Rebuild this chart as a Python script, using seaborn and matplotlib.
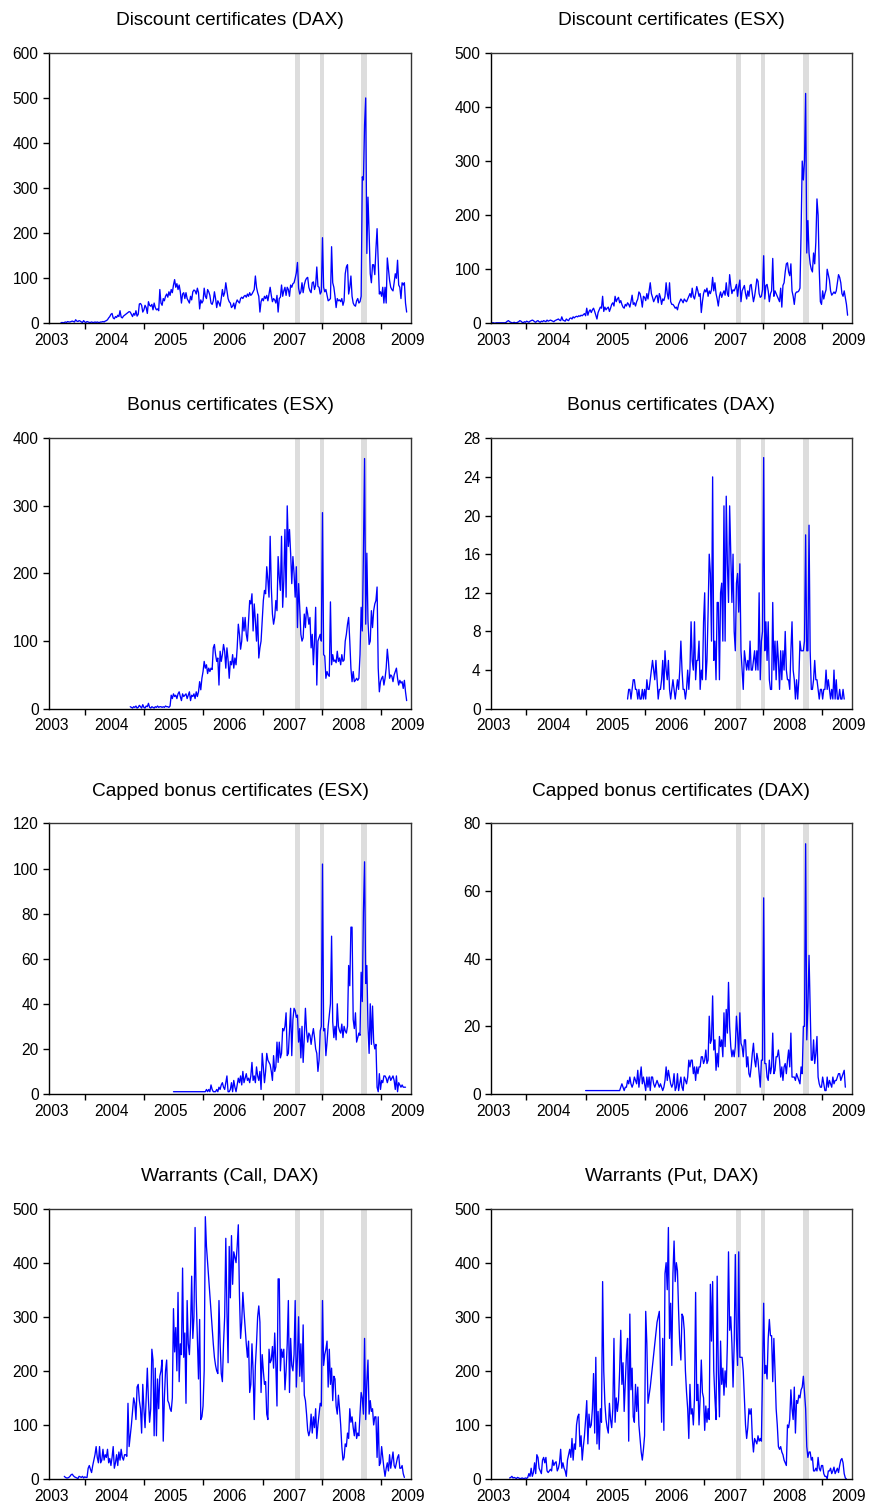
import pandas as pd
import numpy as np
import seaborn as sns
import matplotlib.pyplot as plt
import matplotlib.dates as mdates

sns.set_style("ticks")
plt.rcParams['font.family'] = ['Liberation Sans', 'DejaVu Sans']
plt.rcParams['text.color'] = 'black'
plt.rcParams['xtick.color'] = 'black'
plt.rcParams['ytick.color'] = 'black'

### weekly sample, 2003-05-30 .. 2009-06-05 ###
weeks = pd.date_range('2003-05-30', periods=315, freq='7D')
year_labels = ['2003', '2004', '2005', '2006', '2007', '2008', '2009']
year_starts = ['2004-01-01', '2005-01-01', '2006-01-01', '2007-01-01', '2008-01-01', '2009-01-01']
bands = [('2007-07-20', '2007-08-18'), ('2007-12-20', '2008-01-15'), ('2008-08-31', '2008-10-07')]

# Discount certificates (DAX), from week 10
discount_dax = [
    1, 2, 1, 2, 3, 2, 4, 3, 3, 4,
    5, 4, 3, 8, 5, 4, 6, 5, 3, 2,
    6, 3, 2, 4, 3, 2, 2, 3, 2, 2,
    3, 2, 3, 2, 2, 3, 3, 4, 3, 5,
    6, 8, 12, 15, 20, 22, 12, 10, 15, 13,
    18, 15, 28, 14, 12, 16, 18, 20, 22, 24,
    26, 25, 20, 15, 22, 18, 28, 16, 20, 43,
    44, 40, 25, 30, 40, 35, 22, 48, 40, 38,
    42, 30, 45, 35, 30, 32, 28, 75, 45, 40,
    55, 50, 60, 65, 58, 70, 62, 75, 68, 85,
    97, 80, 88, 75, 85, 70, 45, 65, 68, 55,
    68, 55, 50, 45, 60, 52, 70, 74, 72, 65,
    78, 68, 32, 52, 45, 50, 78, 60, 55, 75,
    70, 62, 45, 42, 50, 70, 55, 35, 50, 45,
    38, 55, 75, 60, 68, 90, 72, 55, 48, 45,
    35, 38, 45, 32, 45, 52, 48, 45, 55, 58,
    55, 60, 62, 58, 65, 60, 68, 62, 65, 70,
    75, 105, 80, 68, 60, 25, 48, 55, 50, 60,
    55, 62, 50, 65, 80, 62, 48, 55, 52, 45,
    62, 25, 55, 58, 85, 60, 72, 80, 62, 80,
    75, 60, 85, 80, 88, 90, 100, 112, 135, 78,
    65, 70, 90, 68, 85, 95, 100, 102, 80, 72,
    68, 90, 92, 75, 85, 125, 82, 80, 65, 70,
    190, 80, 70, 75, 62, 50, 52, 55, 170, 90,
    80, 60, 35, 55, 50, 52, 48, 55, 40, 50,
    110, 125, 130, 65, 80, 105, 60, 45, 40, 38,
    50, 55, 45, 48, 60, 325, 318, 440, 500, 155,
    280, 200, 110, 90, 130, 130, 108, 165, 210, 140,
    65, 70, 60, 80, 45, 80, 45, 145, 120, 95,
    80, 75, 72, 90, 110, 100, 140, 85, 80, 55,
    90, 85, 90, 45, 25]

# Discount certificates (ESX), from week 0
discount_esx = [
    1, 1, 1, 0, 1, 1, 1, 1, 1, 1,
    1, 1, 1, 2, 4, 5, 3, 2, 1, 1,
    2, 1, 1, 2, 3, 5, 4, 2, 1, 3,
    2, 4, 3, 2, 4, 5, 6, 5, 3, 2,
    4, 5, 3, 2, 4, 3, 5, 4, 3, 6,
    4, 5, 6, 5, 4, 3, 5, 6, 7, 8,
    6, 5, 12, 6, 5, 4, 8, 6, 5, 9,
    10, 8, 12, 10, 12, 13, 12, 14, 13, 15,
    14, 16, 18, 14, 28, 15, 22, 25, 20, 25,
    28, 22, 15, 8, 20, 25, 30, 28, 50, 22,
    30, 25, 28, 30, 22, 28, 35, 38, 32, 50,
    40, 45, 48, 38, 42, 35, 30, 28, 35, 32,
    38, 35, 30, 40, 52, 35, 38, 32, 40, 45,
    58, 55, 45, 30, 50, 48, 42, 55, 45, 60,
    75, 55, 48, 40, 45, 50, 52, 38, 55, 48,
    35, 45, 42, 50, 75, 55, 45, 75, 40, 35,
    35, 32, 28, 30, 25, 35, 40, 45, 42, 38,
    45, 42, 40, 45, 50, 55, 48, 65, 50, 45,
    55, 68, 60, 50, 55, 20, 40, 55, 62, 58,
    65, 50, 60, 55, 62, 85, 60, 75, 55, 45,
    32, 50, 58, 48, 55, 60, 52, 75, 55, 50,
    90, 70, 55, 62, 60, 65, 72, 50, 68, 80,
    40, 60, 65, 70, 55, 45, 60, 50, 70, 72,
    55, 40, 50, 65, 82, 78, 55, 48, 50, 62,
    125, 45, 70, 72, 60, 40, 55, 60, 120, 50,
    60, 55, 50, 45, 40, 65, 30, 70, 75, 95,
    110, 112, 95, 88, 110, 60, 50, 35, 55, 58,
    58, 60, 65, 170, 300, 265, 300, 425, 130, 190,
    130, 110, 100, 95, 130, 110, 150, 230, 200, 100,
    40, 35, 60, 45, 55, 62, 100, 90, 80, 60,
    52, 55, 58, 55, 60, 75, 90, 85, 75, 55,
    50, 60, 48, 35, 15]

# Bonus certificates (ESX), from week 71
bonus_esx = [
    3, 2, 1, 3, 2, 4, 1, 2, 5,
    3, 1, 6, 2, 1, 4, 3, 8, 2, 1,
    3, 2, 1, 3, 2, 4, 2, 3, 3, 2,
    3, 2, 4, 3, 3, 2, 4, 20, 15, 22,
    18, 20, 15, 22, 25, 18, 12, 22, 18, 20,
    22, 15, 20, 25, 12, 20, 18, 22, 15, 25,
    18, 25, 40, 28, 45, 55, 70, 60, 65, 52,
    60, 55, 60, 58, 90, 95, 80, 70, 75, 35,
    85, 70, 80, 95, 85, 60, 90, 72, 45, 70,
    65, 80, 60, 75, 65, 90, 125, 110, 88, 100,
    135, 115, 135, 110, 100, 130, 160, 155, 170, 115,
    155, 130, 100, 140, 75, 90, 100, 130, 160, 175,
    170, 210, 190, 165, 255, 180, 140, 125, 135, 160,
    145, 225, 195, 175, 255, 150, 190, 265, 165, 300,
    240, 265, 230, 185, 225, 200, 165, 210, 120, 185,
    150, 110, 100, 105, 140, 120, 150, 140, 125, 135,
    90, 110, 65, 100, 150, 35, 100, 105, 110, 100,
    290, 80, 78, 45, 55, 50, 48, 158, 65, 80,
    70, 72, 68, 85, 70, 75, 65, 80, 70, 72,
    100, 110, 125, 135, 100, 60, 40, 55, 40, 42,
    45, 42, 45, 80, 150, 115, 230, 370, 125, 230,
    130, 95, 100, 145, 120, 145, 155, 160, 180, 60,
    25, 40, 45, 48, 35, 45, 60, 88, 70, 45,
    50, 48, 40, 50, 55, 60, 45, 35, 42, 38,
    40, 30, 42, 25, 12]

# Bonus certificates (DAX), from week 120
bonus_dax = [
    1, 2, 2, 1, 2, 3, 3, 2, 2, 1,
    2, 1, 1, 2, 1, 2, 1, 3, 2, 2,
    3, 4, 5, 4, 3, 5, 3, 1, 2, 2,
    3, 5, 2, 6, 4, 3, 5, 2, 1, 2,
    3, 2, 1, 2, 3, 2, 4, 7, 4, 2,
    2, 1, 2, 4, 2, 4, 9, 5, 4, 9,
    3, 5, 5, 7, 2, 4, 3, 9, 12, 3,
    5, 10, 16, 14, 7, 24, 5, 7, 3, 11,
    11, 3, 12, 13, 7, 21, 7, 22, 15, 11,
    21, 16, 11, 16, 8, 6, 13, 14, 10, 15,
    6, 4, 2, 6, 5, 4, 5, 4, 7, 4,
    4, 5, 6, 4, 6, 4, 12, 3, 7, 8,
    26, 6, 9, 5, 9, 3, 2, 2, 11, 4,
    7, 3, 7, 5, 2, 6, 3, 6, 4, 8,
    4, 3, 3, 2, 6, 9, 4, 3, 1, 3,
    1, 3, 7, 6, 6, 6, 7, 18, 6, 6,
    19, 6, 2, 2, 3, 5, 3, 3, 2, 1,
    2, 2, 1, 2, 2, 4, 2, 3, 2, 1,
    2, 1, 4, 1, 3, 1, 1, 2, 1, 1,
    2, 1]

# Capped bonus certificates (ESX), from week 109
capped_esx = [
    1,
    1, 1, 1, 1, 1, 1, 1, 1, 1, 1,
    1, 1, 1, 1, 1, 1, 1, 1, 1, 1,
    1, 1, 1, 1, 1, 1, 1, 1, 2, 1,
    2, 1, 4, 2, 1, 1, 1, 2, 1, 3,
    2, 4, 5, 3, 2, 5, 8, 1, 1, 2,
    5, 1, 6, 3, 1, 4, 7, 5, 8, 4,
    10, 5, 7, 9, 6, 7, 5, 8, 14, 6,
    8, 5, 12, 8, 6, 10, 2, 18, 12, 5,
    10, 18, 15, 14, 13, 10, 6, 17, 10, 12,
    23, 14, 23, 16, 18, 29, 28, 30, 36, 17,
    18, 28, 38, 17, 33, 38, 37, 34, 35, 23,
    29, 16, 30, 14, 25, 38, 28, 23, 27, 26,
    22, 26, 29, 25, 20, 18, 10, 15, 28, 30,
    102, 28, 29, 17, 23, 30, 35, 40, 70, 32,
    25, 30, 24, 40, 30, 28, 27, 31, 25, 30,
    28, 27, 30, 57, 48, 74, 74, 33, 29, 36,
    23, 25, 27, 26, 54, 41, 81, 103, 49, 57,
    30, 18, 40, 22, 39, 23, 20, 22, 3, 1,
    9, 2, 6, 5, 8, 8, 7, 5, 7, 8,
    6, 7, 8, 6, 2, 8, 1, 5, 4, 3,
    4, 3, 3, 3]

# Capped bonus certificates (DAX), from week 83
capped_dax = [
    1, 1, 1, 1, 1, 1, 1,
    1, 1, 1, 1, 1, 1, 1, 1, 1, 1,
    1, 1, 1, 1, 1, 1, 1, 1, 1, 1,
    1, 1, 1, 1, 2, 3, 2, 1, 2, 2,
    4, 3, 5, 3, 2, 3, 5, 4, 3, 7,
    2, 5, 8, 3, 5, 3, 1, 5, 2, 5,
    1, 5, 5, 3, 2, 3, 4, 3, 2, 3,
    2, 1, 2, 4, 8, 4, 7, 5, 3, 2,
    3, 6, 1, 2, 6, 1, 3, 5, 2, 1,
    5, 4, 3, 5, 10, 8, 10, 10, 6, 8,
    4, 8, 6, 8, 8, 11, 11, 9, 10, 13,
    9, 10, 23, 15, 16, 29, 13, 16, 7, 12,
    8, 17, 14, 16, 11, 24, 14, 25, 18, 33,
    20, 14, 11, 13, 11, 14, 23, 18, 11, 24,
    15, 14, 11, 16, 16, 8, 11, 6, 5, 8,
    12, 15, 10, 8, 12, 10, 6, 2, 10, 10,
    58, 9, 9, 5, 4, 10, 6, 8, 18, 6,
    7, 11, 11, 13, 10, 5, 8, 4, 8, 9,
    6, 10, 13, 8, 18, 5, 5, 5, 4, 6,
    5, 4, 3, 8, 6, 20, 20, 74, 16, 26,
    41, 26, 10, 10, 16, 9, 12, 17, 5, 3,
    2, 2, 5, 3, 1, 1, 5, 2, 4, 3,
    2, 5, 3, 4, 4, 5, 6, 6, 4, 5,
    6, 7, 2]

# Warrants (Call, DAX), from week 13
call_dax = [
    5, 3, 2, 2, 3, 5, 8,
    9, 6, 4, 3, 2, 1, 5, 4, 3, 5,
    2, 4, 3, 3, 20, 25, 18, 12, 25, 35,
    45, 60, 40, 30, 60, 30, 35, 55, 35, 45,
    40, 55, 30, 38, 25, 40, 60, 20, 30, 45,
    25, 50, 35, 55, 40, 35, 45, 45, 42, 140,
    60, 80, 100, 125, 150, 140, 110, 170, 175, 145,
    130, 85, 175, 130, 95, 150, 205, 145, 105, 130,
    240, 220, 80, 205, 80, 185, 130, 190, 200, 220,
    70, 150, 200, 220, 145, 140, 130, 125, 150, 315,
    235, 280, 200, 345, 180, 250, 230, 390, 225, 270,
    140, 330, 250, 230, 280, 375, 260, 300, 465, 335,
    260, 185, 295, 110, 115, 135, 200, 485, 430, 400,
    370, 340, 310, 280, 250, 225, 210, 200, 195, 330,
    250, 195, 180, 250, 300, 445, 310, 215, 430, 335,
    450, 360, 420, 410, 400, 430, 470, 340, 260, 290,
    345, 310, 280, 250, 225, 255, 160, 175, 250, 200,
    110, 210, 250, 300, 320, 290, 160, 230, 200, 175,
    180, 120, 110, 240, 215, 220, 245, 205, 270, 210,
    135, 370, 370, 200, 240, 225, 240, 165, 200, 250,
    330, 160, 260, 210, 200, 230, 330, 170, 225, 300,
    190, 250, 180, 285, 155, 145, 120, 90, 80, 90,
    120, 85, 115, 95, 130, 75, 100, 120, 140, 135,
    330, 210, 230, 240, 255, 170, 240, 175, 205, 145,
    190, 185, 135, 120, 155, 130, 100, 60, 35, 40,
    65, 60, 85, 75, 130, 105, 115, 95, 80, 105,
    75, 85, 80, 120, 160, 150, 120, 260, 110, 180,
    220, 120, 145, 125, 130, 100, 115, 115, 40, 115,
    25, 30, 60, 40, 20, 5, 20, 30, 15, 45,
    20, 35, 50, 25, 20, 30, 40, 45, 20, 20,
    25, 10, 3]

# Warrants (Put, DAX), from week 16
put_dax = [
    2, 3, 5, 2,
    3, 2, 1, 3, 2, 1, 1, 2, 1, 1,
    2, 1, 3, 10, 5, 20, 5, 12, 30, 10,
    45, 40, 20, 15, 10, 35, 40, 30, 40, 15,
    12, 15, 18, 15, 35, 25, 30, 32, 15, 20,
    30, 55, 20, 30, 20, 15, 5, 35, 45, 55,
    40, 75, 35, 65, 55, 100, 115, 120, 60, 80,
    35, 60, 80, 110, 145, 65, 120, 95, 100, 130,
    195, 85, 225, 65, 125, 55, 130, 105, 365, 200,
    140, 110, 95, 85, 140, 110, 95, 130, 260, 105,
    150, 125, 145, 200, 275, 175, 215, 125, 180, 230,
    260, 70, 305, 165, 205, 115, 105, 175, 125, 170,
    100, 75, 50, 35, 55, 80, 310, 250, 140, 155,
    170, 190, 210, 230, 250, 270, 290, 300, 310, 200,
    105, 260, 90, 380, 400, 350, 465, 260, 325, 210,
    380, 440, 365, 400, 385, 310, 250, 220, 305, 300,
    275, 200, 160, 130, 75, 175, 120, 130, 100, 150,
    345, 145, 175, 100, 150, 220, 160, 150, 90, 135,
    105, 130, 110, 360, 255, 365, 200, 150, 110, 375,
    200, 115, 255, 175, 205, 155, 200, 170, 250, 420,
    275, 300, 250, 170, 250, 415, 260, 210, 420, 225,
    225, 225, 200, 150, 100, 75, 95, 130, 120, 130,
    75, 50, 75, 70, 65, 80, 70, 75, 70, 200,
    325, 195, 210, 185, 260, 295, 265, 265, 180, 260,
    200, 130, 100, 60, 55, 60, 50, 45, 35, 30,
    25, 100, 95, 110, 165, 130, 110, 170, 85, 145,
    140, 155, 150, 165, 170, 190, 160, 130, 60, 40,
    50, 50, 35, 40, 15, 15, 20, 15, 40, 20,
    15, 25, 25, 10, 5, 5, 0, 15, 15, 20,
    10, 15, 22, 10, 15, 20, 12, 25, 35, 38, 30, 10, 2, 0]

panels = [
    ("Discount certificates (DAX)", discount_dax, 10, 600, 100),
    ("Discount certificates (ESX)", discount_esx, 0, 500, 100),
    ("Bonus certificates (ESX)", bonus_esx, 71, 400, 100),
    ("Bonus certificates (DAX)", bonus_dax, 120, 28, 4),
    ("Capped bonus certificates (ESX)", capped_esx, 109, 120, 20),
    ("Capped bonus certificates (DAX)", capped_dax, 83, 80, 20),
    ("Warrants (Call, DAX)", call_dax, 13, 500, 100),
    ("Warrants (Put, DAX)", put_dax, 16, 500, 100),
]

fig = plt.figure(figsize=(8.69, 15.06), dpi=100)
lefts = [0.0564, 0.565]
widths = [0.4166, 0.4154]
bottoms = [0.7853, 0.5294, 0.2736, 0.0179]

major = mdates.date2num(pd.to_datetime(year_starts))
label_pos = mdates.date2num(pd.to_datetime([y + '-06-13' for y in year_labels]))

for i, (title, vals, start, ymax, step) in enumerate(panels):
    ax = fig.add_axes([lefts[i % 2], bottoms[i // 2], widths[i % 2], 0.1796])
    for a, b in bands:
        ax.axvspan(pd.Timestamp(a), pd.Timestamp(b), color='#dddddd', lw=0, zorder=0)
    sns.lineplot(x=weeks[start:start + len(vals)], y=vals, ax=ax, color='#0000ff', linewidth=0.95)
    ax.set_xlim(pd.Timestamp('2003-05-27'), pd.Timestamp('2009-07-02'))
    ax.set_ylim(0, ymax)
    ax.set_yticks(np.arange(0, ymax + step, step))
    ax.set_xticks(major)
    ax.set_xticks(label_pos, minor=True)
    ax.set_xticklabels(year_labels, minor=True)
    ax.tick_params(axis='x', which='major', labelbottom=False, length=4, width=1, direction='out')
    ax.tick_params(axis='x', which='minor', length=0, pad=7, labelsize=11.2)
    ax.tick_params(axis='y', length=4.5, width=1, pad=3, labelsize=11.2)
    ax.set_xlabel('')
    ax.set_ylabel('')
    for s in ax.spines.values():
        s.set_linewidth(1.0)
        s.set_color('black')
    ax.spines['top'].set_color('#333333')
    ax.spines['right'].set_color('#333333')
    ax.set_title(title, fontsize=13.8, pad=20)

plt.savefig('out.png', dpi=100)
